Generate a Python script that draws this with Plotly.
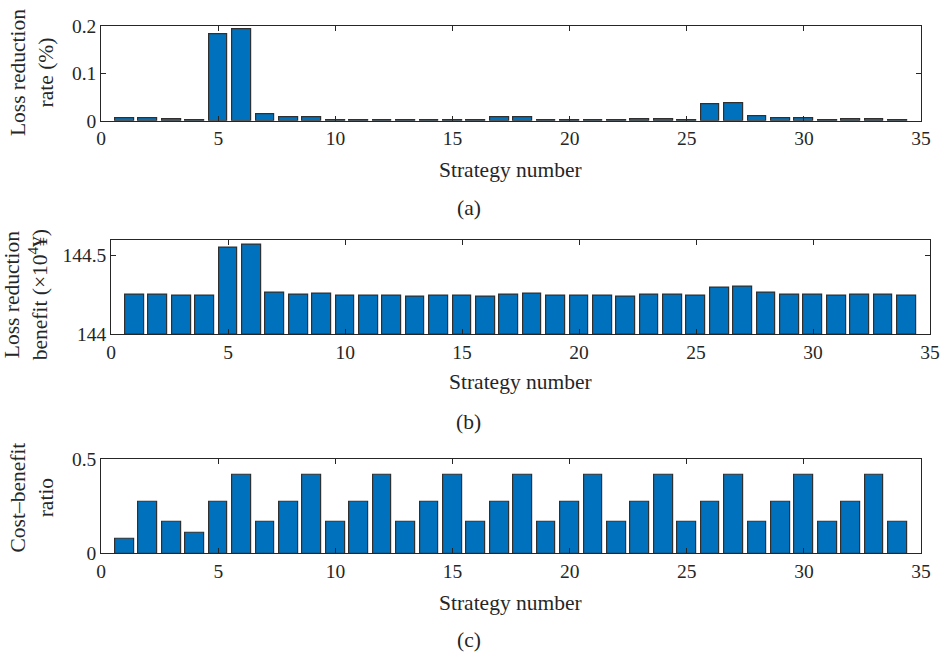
import plotly.graph_objects as go

# Strategy indices
strategies = list(range(1, 35))

# (a) Loss reduction rate (%)
loss_rate = [0.0063, 0.0063, 0.003, 0.002, 0.1824, 0.1944, 0.0134, 0.007, 0.0077,
             0.0012, 0.0012, 0.0012, 0.001, 0.0012, 0.0012, 0.001, 0.007, 0.0077,
             0.0012, 0.0012, 0.0012, 0.001, 0.004, 0.004, 0.0012, 0.0345, 0.0366,
             0.0106, 0.005, 0.005, 0.0014, 0.004, 0.004, 0.001]

# (b) Loss reduction benefit (x10^4 yuan)
benefit = [144.252, 144.252, 144.246, 144.246, 144.548, 144.567, 144.265, 144.254, 144.256,
           144.242, 144.242, 144.242, 144.240, 144.242, 144.242, 144.240, 144.254, 144.256,
           144.242, 144.242, 144.242, 144.240, 144.250, 144.250, 144.242, 144.298, 144.303,
           144.263, 144.252, 144.252, 144.244, 144.250, 144.250, 144.242]

# (c) Cost-benefit ratio
cost_ratio = [0.079, 0.275, 0.167, 0.110, 0.275, 0.416, 0.167, 0.275, 0.416,
              0.167, 0.275, 0.416, 0.167, 0.275, 0.416, 0.167, 0.275, 0.416,
              0.167, 0.275, 0.416, 0.167, 0.275, 0.416, 0.167, 0.275, 0.416,
              0.167, 0.275, 0.416, 0.167, 0.275, 0.416, 0.167]

x_ticks = [0, 5, 10, 15, 20, 25, 30, 35]

# Figure size and the screen-space scale/offset used to place elements
W, H = 940, 664
SX, SY = 0.983, 0.972
OFF_X, OFF_Y = 6.0, 8.0
FONT = "Liberation Serif"
BAR_COLOR = "#0072BD"
EDGE = "#303030"
INK = "#262626"


def px_x(t):
    return (t / SX - OFF_X) / W


def px_y(t):
    return 1 - (t / SY - OFF_Y) / H


fig = go.Figure()

panels = [
    dict(vals=loss_rate, base=None, xpx=(102, 921), ypx=(24, 119),
         yr=[0, 0.2], yt=[0, 0.1, 0.2], ytt=["0", "0.1", "0.2"]),
    dict(vals=benefit, base=144, xpx=(112, 930), ypx=(238.3, 333.3),
         yr=[144, 144.6], yt=[144, 144.5], ytt=["144", "144.5"]),
    dict(vals=cost_ratio, base=None, xpx=(102, 921), ypx=(458.3, 553.3),
         yr=[0, 0.5], yt=[0, 0.5], ytt=["0", "0.5"]),
]

layout_axes = {}
for i, p in enumerate(panels, start=1):
    sfx = "" if i == 1 else str(i)
    bar_kw = dict(width=0.8, marker=dict(color=BAR_COLOR, line=dict(color=EDGE, width=1.2)),
                  xaxis="x" + sfx, yaxis="y" + sfx, showlegend=False)
    if p["base"] is not None:
        fig.add_trace(go.Bar(x=strategies, y=[v - p["base"] for v in p["vals"]],
                             base=p["base"], **bar_kw))
    else:
        fig.add_trace(go.Bar(x=strategies, y=p["vals"], **bar_kw))
    common = dict(showline=True, linecolor=INK, linewidth=1, mirror="allticks",
                  ticks="inside", ticklen=5, tickcolor=INK, showgrid=False,
                  zeroline=False, ticklabeloverflow="allow",
                  tickfont=dict(family=FONT, size=19.5, color=INK))
    layout_axes["xaxis" + sfx] = dict(
        domain=[px_x(p["xpx"][0]), min(1.0, px_x(p["xpx"][1]))], range=[0, 35],
        tickvals=x_ticks, ticktext=[str(t) for t in x_ticks],
        anchor="y" + sfx, **common)
    layout_axes["yaxis" + sfx] = dict(
        domain=[px_y(p["ypx"][1]), px_y(p["ypx"][0])], range=p["yr"],
        tickvals=p["yt"], ticktext=p["ytt"], anchor="x" + sfx, **common)

fig.update_layout(**layout_axes)

txt_font = dict(family=FONT, size=21.5, color=INK)
annotations = [
    # x-axis titles
    dict(text="Strategy number", x=px_x(511), y=px_y(168)),
    dict(text="Strategy number", x=px_x(521), y=px_y(381)),
    dict(text="Strategy number", x=px_x(511), y=px_y(603)),
    # panel labels
    dict(text="(a)", x=px_x(469), y=px_y(207)),
    dict(text="(b)", x=px_x(469), y=px_y(421)),
    dict(text="(c)", x=px_x(469), y=px_y(640)),
    # y-axis titles
    dict(text="Loss reduction<br>rate (%)", x=px_x(33), y=px_y(71), textangle=-90),
    dict(text="Loss reduction<br>benefit (×10<sup>4</sup>¥)", x=px_x(27), y=px_y(294),
         textangle=-90),
    dict(text="Cost–benefit<br>ratio", x=px_x(33), y=px_y(497), textangle=-90),
]
for a in annotations:
    a.update(xref="paper", yref="paper", showarrow=False, font=txt_font,
             xanchor="center", yanchor="middle")

fig.update_layout(
    width=W, height=H, margin=dict(l=0, r=0, t=0, b=0),
    paper_bgcolor="white", plot_bgcolor="white",
    annotations=annotations, bargap=0,
)

page_css = ("document.documentElement.style.overflow='hidden';"
            "document.body.style.overflow='hidden';")
fig.write_html("out.html", post_script=page_css)
